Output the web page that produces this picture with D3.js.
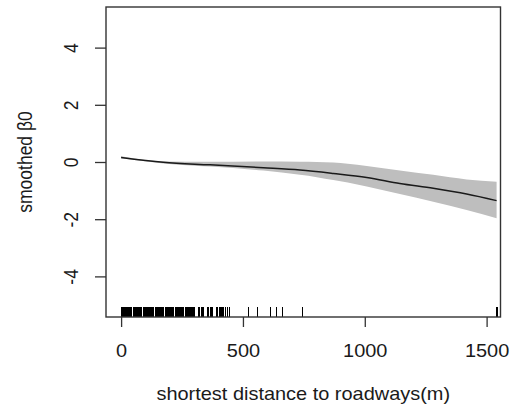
<!DOCTYPE html>
<html>
<head>
<meta charset="utf-8">
<script src="https://cdn.jsdelivr.net/npm/d3@7"></script>
<style>
html,body{margin:0;padding:0;background:#fff;}
svg{display:block;}
text{font-family:"Liberation Sans",Arial,sans-serif;fill:#1a1a1a;}
</style>
</head>
<body>
<svg id="chart" width="513" height="409"></svg>
<script>
// ---- data ----
const distance   = [0, 173, 365, 584, 734, 871, 1008, 1144, 1281, 1418, 1541];
const smooth     = [0.16, -0.01, -0.10, -0.20, -0.28, -0.40, -0.54, -0.75, -0.92, -1.12, -1.35];
const bandX      = [0, 173, 365, 584, 734, 803, 871, 930, 1008, 1144, 1281, 1418, 1541];
const upperBand  = [0.20, 0.02, 0.01, 0.02, 0.01, 0.00, -0.02, -0.06, -0.14, -0.30, -0.45, -0.61, -0.69];
const lowerBand  = [0.13, -0.05, -0.16, -0.30, -0.45, -0.53, -0.63, -0.72, -0.86, -1.12, -1.39, -1.68, -1.97];
const rugValues  = [0,3,6,9,12,15,18,21,24,27,30,33,36,39,42,
  53,56,59,62,65,68,71,74,77,80,83,
  93,96,99,102,105,108,111,114,117,120,123,126,129,132,
  143,146,149,152,155,158,161,164,167,170,173,
  184,187,190,193,196,199,202,205,208,211,214,
  225,228,231,234,237,240,243,246,249,252,255,
  266,269,272,275,279,283,287,295,299,316,320,332,336,353,357,
  369,373,390,394,406,410,418,427,438,444,524,561,612,639,663,745,1543];
const xTicks = [0, 500, 1000, 1500];
const yTicks = [-4, -2, 0, 2, 4];
const xLabel = "shortest distance to roadways(m)";
const yLabel = "smoothed β0";

// ---- layout ----
const mLeft = 106, mRight = 500.5, mTop = 7, mBottom = 317;
const sx = 1.14; // horizontal stretch of the reference text
const fs = 17.5;
const svg = d3.select("#chart");

const x = d3.scaleLinear().domain([-62, 1557]).range([mLeft, mRight]);
const y = d3.scaleLinear().domain([-5.42, 5.42]).range([mBottom, mTop]);

// confidence band
const bandData = bandX.map((d, i) => ({x: d, lo: lowerBand[i], hi: upperBand[i]}));
svg.append("path")
  .datum(bandData)
  .attr("fill", "#bebebe")
  .attr("d", d3.area().x(d => x(d.x)).y0(d => y(d.lo)).y1(d => y(d.hi)).curve(d3.curveMonotoneX));

// smooth line
const lineData = distance.map((d, i) => ({x: d, v: smooth[i]}));
svg.append("path")
  .datum(lineData)
  .attr("fill", "none")
  .attr("stroke", "#1a1a1a")
  .attr("stroke-width", 1.5)
  .attr("d", d3.line().x(d => x(d.x)).y(d => y(d.v)).curve(d3.curveMonotoneX));

// rug
svg.append("g").attr("shape-rendering", "crispEdges").selectAll("line")
  .data(rugValues)
  .join("line")
  .attr("x1", d => x(d)).attr("x2", d => x(d))
  .attr("y1", mBottom).attr("y2", mBottom - 10)
  .attr("stroke", "#000").attr("stroke-width", 1.2);

// box
svg.append("rect")
  .attr("x", mLeft).attr("y", mTop)
  .attr("width", mRight - mLeft).attr("height", mBottom - mTop)
  .attr("fill", "none").attr("stroke", "#333").attr("stroke-width", 1.4);

// x axis
const gx = svg.append("g")
  .attr("transform", `translate(0,${mBottom})`)
  .call(d3.axisBottom(x).tickValues(xTicks).tickSize(10).tickSizeOuter(0).tickFormat(d => String(d)));
gx.select(".domain").remove();
gx.selectAll(".tick line").attr("stroke", "#333").attr("stroke-width", 1.3);
gx.selectAll(".tick text")
  .attr("y", null).attr("dy", null)
  .attr("transform", `translate(0,40) scale(${sx},1)`)
  .attr("font-size", fs).attr("fill", "#1a1a1a")
  .attr("text-anchor", "middle");

// y axis
const gy = svg.append("g")
  .attr("transform", `translate(${mLeft},0)`)
  .call(d3.axisLeft(y).tickValues(yTicks).tickSize(11).tickSizeOuter(0).tickFormat(d => String(d)));
gy.select(".domain").remove();
gy.selectAll(".tick line").attr("stroke", "#333").attr("stroke-width", 1.3);
gy.selectAll(".tick text")
  .attr("x", null).attr("dy", null)
  .attr("transform", `translate(-28,0) scale(${sx},1) rotate(-90)`)
  .attr("font-size", fs).attr("fill", "#1a1a1a")
  .attr("text-anchor", "middle");

// axis titles
svg.append("text")
  .attr("transform", `translate(${(mLeft + mRight) / 2},400) scale(${sx},1)`)
  .attr("text-anchor", "middle").attr("font-size", fs)
  .text(xLabel);
svg.append("text")
  .attr("transform", `translate(32,${(mTop + mBottom) / 2}) scale(${sx},1) rotate(-90)`)
  .attr("text-anchor", "middle").attr("font-size", fs)
  .text(yLabel);
</script>
</body>
</html>
